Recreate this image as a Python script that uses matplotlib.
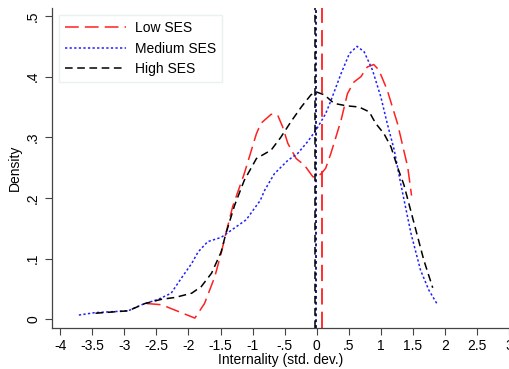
import matplotlib
matplotlib.use("Agg")
import matplotlib.pyplot as plt

plt.rcParams['font.family'] = ['Liberation Sans', 'DejaVu Sans']

# kernel density estimates of internality by SES group
low_x = [-2.65, -2.42, -2.16, -1.90, -1.75, -1.59, -1.49, -1.42, -1.31, -1.13, -0.94, -0.87,
         -0.71, -0.61, -0.53, -0.45, -0.32, -0.19, -0.06, -0.01, 0.07, 0.14, 0.22, 0.38,
         0.48, 0.58, 0.69, 0.79, 0.89, 0.97, 1.10, 1.26, 1.42, 1.48]
low_y = [0.026, 0.024, 0.013, 0.002, 0.026, 0.070, 0.109, 0.140, 0.186, 0.240, 0.306, 0.323,
         0.338, 0.337, 0.317, 0.290, 0.265, 0.254, 0.235, 0.234, 0.240, 0.249, 0.273, 0.328,
         0.372, 0.391, 0.400, 0.416, 0.420, 0.411, 0.378, 0.323, 0.251, 0.204]

med_x = [-3.71, -3.46, -2.94, -2.73, -2.47, -2.27, -2.11, -1.95, -1.85, -1.70, -1.49, -1.29,
         -1.10, -0.97, -0.88, -0.81, -0.66, -0.45, -0.30, -0.14, -0.01, 0.14, 0.22, 0.38,
         0.51, 0.63, 0.74, 0.87, 1.00, 1.10, 1.21, 1.31, 1.47, 1.62, 1.75, 1.88]
med_y = [0.007, 0.011, 0.014, 0.024, 0.033, 0.043, 0.068, 0.092, 0.111, 0.128, 0.135, 0.150,
         0.164, 0.183, 0.196, 0.213, 0.240, 0.262, 0.273, 0.293, 0.312, 0.339, 0.360, 0.405,
         0.438, 0.450, 0.441, 0.411, 0.367, 0.323, 0.279, 0.224, 0.142, 0.081, 0.048, 0.025]

high_x = [-3.45, -2.94, -2.68, -2.42, -2.21, -1.95, -1.80, -1.64, -1.49, -1.42, -1.28, -1.13,
          -0.94, -0.71, -0.56, -0.40, -0.24, -0.09, -0.01, 0.12, 0.27, 0.46, 0.66, 0.82,
          0.92, 1.05, 1.16, 1.26, 1.36, 1.52, 1.67, 1.81]
high_y = [0.010, 0.014, 0.026, 0.033, 0.036, 0.043, 0.054, 0.076, 0.111, 0.140, 0.188, 0.229,
          0.265, 0.279, 0.300, 0.326, 0.350, 0.370, 0.375, 0.370, 0.356, 0.352, 0.350, 0.342,
          0.323, 0.306, 0.284, 0.251, 0.222, 0.158, 0.098, 0.052]

# group means
low_mean = 0.08
med_mean = -0.01
high_mean = -0.02

xticks = [-4, -3.5, -3, -2.5, -2, -1.5, -1, -0.5, 0, 0.5, 1, 1.5, 2, 2.5, 3]
xtick_labels = ['-4', '-3.5', '-3', '-2.5', '-2', '-1.5', '-1', '-.5', '0', '.5', '1', '1.5', '2', '2.5', '3']
yticks = [0, 0.1, 0.2, 0.3, 0.4, 0.5]
ytick_labels = ['0', '.1', '.2', '.3', '.4', '.5']

red = '#ff2020'
blue = '#2020ff'

fig = plt.figure(figsize=(5.09, 3.69), dpi=100)
ax = fig.add_axes([0.102, 0.112, 0.898, 0.866])

ax.plot(low_x, low_y, color=red, lw=1.1, dashes=(9, 4), label='Low SES')
ax.plot(med_x, med_y, color=blue, lw=1.1, dashes=(1.5, 1.5), label='Medium SES')
ax.plot(high_x, high_y, color='black', lw=1.1, dashes=(5, 3), label='High SES')

ax.axvline(med_mean, color='#1a1a80', lw=1.4, dashes=(1.5, 1.5))
ax.axvline(high_mean, color='black', lw=1.1, dashes=(5, 3))
ax.axvline(low_mean, color=red, lw=1.3, dashes=(9, 4))

ax.set_xlim(-4.13, 3.0)
ax.set_ylim(-0.0138, 0.513)
ax.set_xticks(xticks)
ax.set_xticklabels(xtick_labels)
ax.set_yticks(yticks)
ax.set_yticklabels(ytick_labels, rotation=90, va='center')
ax.tick_params(direction='out', length=5, width=0.8, labelsize=10, color='#444444')
ax.set_xlabel('Internality (std. dev.)', fontsize=10, labelpad=0)
ax.set_ylabel('Density', fontsize=10, labelpad=3)

for s in ['top', 'right']:
    ax.spines[s].set_visible(False)
for s in ['left', 'bottom']:
    ax.spines[s].set_color('#444444')
    ax.spines[s].set_linewidth(0.9)

leg = ax.legend(loc='upper left', bbox_to_anchor=(0.0, 1.0), fontsize=10, frameon=True,
                fancybox=False, handlelength=4.4, handletextpad=0.6, borderpad=0.45,
                labelspacing=0.45)
leg.get_frame().set_edgecolor('#e4eef0')
leg.get_frame().set_linewidth(1.0)

fig.savefig('out.png', dpi=100)
